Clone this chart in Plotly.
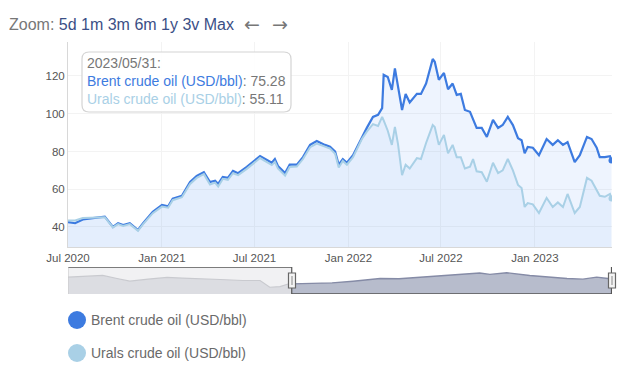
import plotly.graph_objects as go

# ---------------- data ----------------
dates = [
    "2020-07-01", "2020-07-15", "2020-07-30", "2020-08-13", "2020-08-27", "2020-09-11",
    "2020-09-27", "2020-10-07", "2020-10-17", "2020-10-30", "2020-11-15", "2020-11-25",
    "2020-12-14", "2021-01-01", "2021-01-13", "2021-01-22", "2021-02-09", "2021-02-25",
    "2021-03-10", "2021-03-24", "2021-04-05", "2021-04-15", "2021-04-21", "2021-04-30",
    "2021-05-10", "2021-05-20", "2021-05-30", "2021-06-16", "2021-07-12", "2021-07-25",
    "2021-08-04", "2021-08-10", "2021-08-16", "2021-08-30", "2021-09-08", "2021-09-22",
    "2021-10-04", "2021-10-18", "2021-10-31", "2021-11-16", "2021-11-26", "2021-12-06",
    "2021-12-13", "2021-12-21", "2021-12-29", "2022-01-10", "2022-01-27", "2022-02-06",
    "2022-02-18", "2022-02-28", "2022-03-08", "2022-03-11", "2022-03-19", "2022-03-27",
    "2022-04-02", "2022-04-08", "2022-04-16", "2022-04-23", "2022-05-01", "2022-05-15",
    "2022-05-23", "2022-06-02", "2022-06-15", "2022-06-19", "2022-06-27", "2022-07-07",
    "2022-07-15", "2022-07-24", "2022-08-01", "2022-08-09", "2022-08-17", "2022-08-27",
    "2022-09-02", "2022-09-09", "2022-09-19", "2022-09-29", "2022-10-11", "2022-10-21",
    "2022-10-30", "2022-11-09", "2022-11-19", "2022-11-29", "2022-12-06", "2022-12-12",
    "2022-12-18", "2022-12-28", "2023-01-09", "2023-01-24", "2023-02-05", "2023-02-15",
    "2023-02-25", "2023-03-06", "2023-03-20", "2023-03-30", "2023-04-13", "2023-04-22",
    "2023-05-02", "2023-05-08", "2023-05-18", "2023-05-28", "2023-05-31",
]
brent = [
    42.6, 42.0, 44.0, 44.5, 45.3, 45.5, 40.0, 42.0, 41.0, 42.0, 38.4, 42.0,
    48.0, 51.7, 51.0, 55.0, 56.5, 63.8, 67.0, 69.0, 63.8, 64.5, 62.8, 66.5,
    66.0, 69.7, 68.5, 71.8, 77.6, 75.5, 74.0, 76.0, 72.3, 68.6, 73.0, 73.0,
    77.0, 83.5, 85.5, 83.5, 82.5, 80.0, 73.0, 76.0, 74.0, 78.0, 87.7, 92.5,
    98.3, 99.4, 103.0, 120.6, 119.5, 112.6, 124.0, 114.0, 102.0, 110.5, 106.0, 110.5,
    110.5, 116.0, 129.0, 127.5, 118.0, 121.6, 113.0, 116.0, 110.0, 110.5, 102.0, 101.0,
    96.7, 92.5, 92.5, 87.7, 96.7, 92.5, 94.0, 98.3, 94.0, 87.0, 86.0, 79.0,
    82.4, 82.0, 78.0, 86.6, 83.5, 86.0, 83.5, 85.0, 74.4, 78.0, 87.7, 86.6,
    82.0, 77.0, 77.0, 77.5, 75.28,
]
urals = [
    43.5, 43.5, 44.8, 45.0, 45.3, 45.2, 39.8, 41.5, 40.5, 41.5, 38.0, 41.5,
    47.3, 50.8, 50.2, 54.2, 55.8, 62.8, 66.0, 68.0, 62.5, 63.5, 61.5, 65.5,
    65.0, 68.5, 67.5, 70.8, 76.5, 74.2, 72.8, 74.5, 71.0, 67.2, 71.8, 72.0,
    76.0, 82.3, 84.2, 82.6, 81.5, 78.8, 71.5, 75.0, 73.0, 77.0, 86.5, 90.5,
    94.5, 93.5, 98.3, 96.5, 91.0, 83.5, 93.0, 84.0, 67.5, 73.0, 71.0, 76.5,
    76.0, 84.5, 94.0, 93.0, 83.5, 88.8, 79.0, 83.5, 77.0, 77.0, 71.0, 72.0,
    76.0, 69.5, 69.0, 64.0, 74.0, 68.6, 70.0, 76.0, 70.0, 62.3, 60.6, 50.6,
    52.7, 52.0, 47.4, 55.4, 50.6, 53.0, 50.6, 57.5, 47.4, 50.6, 66.0, 64.5,
    59.0, 56.5, 56.0, 57.5, 55.11,
]

# navigator overview line (as drawn in the range selector)
nav_dates = [
    "2020-07-01", "2020-08-05", "2020-09-07", "2020-10-05", "2020-10-30", "2020-12-05",
    "2021-01-11", "2021-02-10", "2021-03-16", "2021-04-25", "2021-06-08", "2021-07-12",
    "2021-07-31", "2021-08-20", "2021-09-08", "2021-09-12", "2021-10-20", "2021-11-30",
    "2022-01-10", "2022-03-04", "2022-04-10", "2022-05-21", "2022-07-01", "2022-08-10",
    "2022-09-15", "2022-10-05", "2022-11-07", "2022-12-22", "2023-01-25", "2023-03-05",
    "2023-04-05", "2023-05-02", "2023-05-24", "2023-05-31",
]
nav_values = [
    50, 52, 55, 46, 38, 44, 49, 47, 46, 43, 40, 40,
    20, 22, 31, 30, 31, 33, 38, 46, 45, 50, 55, 58,
    62, 58, 63, 55, 50, 46, 44, 50, 46, 40,
]
nav_split = "2021-09-12"

series_names = ["Brent crude oil (USD/bbl)", "Urals crude oil (USD/bbl)"]
y_ticks = [40, 60, 80, 100, 120]
tooltip_date = "2023/05/31"

BRENT_C = "#3d7be0"
URALS_C = "#a9d0e6"
TXT = "#666666"
FONT = "Liberation Sans, Arial, sans-serif"

# pixel -> paper helpers (plot region: x 68..612, y 42..294)
L, R, T, B = 68, 28, 42, 92
W, H = 640 - L - R, 386 - T - B


def px(x):
    return (x - L) / W


def py(y):
    return (386 - B - y) / H


fig = go.Figure()

# main series
fig.add_trace(go.Scatter(
    x=dates, y=brent, mode="lines", name=series_names[0],
    line=dict(color=BRENT_C, width=2.2), fill="tozeroy",
    fillcolor="rgba(66,133,244,0.09)", xaxis="x", yaxis="y", showlegend=False))
fig.add_trace(go.Scatter(
    x=dates, y=urals, mode="lines", name=series_names[1],
    line=dict(color=URALS_C, width=2), fill="tozeroy",
    fillcolor="rgba(66,133,244,0.05)", xaxis="x", yaxis="y", showlegend=False))
fig.add_trace(go.Scatter(
    x=dates[-1:], y=brent[-1:], mode="markers", marker=dict(color=BRENT_C, size=6),
    xaxis="x", yaxis="y", showlegend=False))
fig.add_trace(go.Scatter(
    x=dates[-1:], y=urals[-1:], mode="markers", marker=dict(color=URALS_C, size=6),
    xaxis="x", yaxis="y", showlegend=False))

# navigator
left_d = [d for d in nav_dates if d <= nav_split]
left_v = nav_values[:len(left_d)]
right_d = [d for d in nav_dates if d >= nav_split]
right_v = nav_values[len(left_d) - 1:] if nav_split in nav_dates else nav_values[len(left_d):]
fig.add_trace(go.Scatter(
    x=left_d, y=left_v, mode="lines", line=dict(color="#c9cacf", width=1.2),
    fill="tozeroy", fillcolor="#dcdde2", xaxis="x2", yaxis="y2",
    showlegend=False, hoverinfo="skip"))
fig.add_trace(go.Scatter(
    x=right_d, y=right_v, mode="lines", line=dict(color="#858ba6", width=1.4),
    fill="tozeroy", fillcolor="#b7bccc", xaxis="x2", yaxis="y2",
    showlegend=False, hoverinfo="skip"))

xrange = ["2020-07-01", "2023-06-01"]

fig.update_layout(
    width=640, height=386,
    margin=dict(l=L, r=R, t=T, b=B, autoexpand=False),
    paper_bgcolor="white", plot_bgcolor="white",
    font=dict(family=FONT, size=12, color=TXT),
    xaxis=dict(
        domain=[0, 1], anchor="y", range=xrange, type="date",
        tick0="2020-07-01", dtick="M6", tickformat="%b %Y",
        showgrid=True, gridcolor="#f3f3f3", gridwidth=1,
        showline=True, linecolor="#d8d8d8", linewidth=1,
        ticks="", tickfont=dict(size=11.5, color="#555"), zeroline=False,
    ),
    yaxis=dict(
        domain=[(294 - 247) / H, 1], anchor="x", range=[29.4, 138],
        tickvals=y_ticks, showgrid=True, gridcolor="#f3f3f3",
        showline=True, linecolor="#d8d8d8", linewidth=1,
        ticks="", tickfont=dict(size=11.5, color="#555"), zeroline=False,
    ),
    xaxis2=dict(
        domain=[0, 1], anchor="y2", range=xrange, type="date",
        showgrid=False, showticklabels=False, showline=False, zeroline=False,
    ),
    yaxis2=dict(
        domain=[0, (294 - 267) / H], anchor="x2", range=[0, 80],
        showgrid=False, showticklabels=False, showline=False, zeroline=False,
    ),
    hovermode=False,
)

shapes = []
annotations = []

# navigator unselected mask background
shapes.append(dict(type="rect", xref="x2", yref="y2", x0=xrange[0], x1=nav_split,
                   y0=0, y1=80, fillcolor="#f1f1f3", line=dict(width=0), layer="below"))
# navigator frame lines
shapes.append(dict(type="line", xref="x2", yref="y2", x0=xrange[0], x1=nav_split,
                   y0=80, y1=80, line=dict(color="#555", width=1.5)))
shapes.append(dict(type="line", xref="x2", yref="y2", x0=nav_split, x1=dates[-1],
                   y0=0, y1=0, line=dict(color="#555", width=1.5)))
shapes.append(dict(type="line", xref="x2", yref="y2", x0=xrange[0], x1=xrange[0],
                   y0=0, y1=80, line=dict(color="#c8c8c8", width=1)))
for hd in [nav_split, dates[-1]]:
    shapes.append(dict(type="line", xref="x2", yref="y2", x0=hd, x1=hd,
                       y0=0, y1=80, line=dict(color="#555", width=1.2)))
# handles
for hx in [292, 612]:
    shapes.append(dict(type="rect", xref="paper", yref="paper",
                       x0=px(hx - 3.5), x1=px(hx + 3.5), y0=py(288), y1=py(273),
                       fillcolor="#f4f4f4", line=dict(color="#666", width=1.2)))
    shapes.append(dict(type="line", xref="paper", yref="paper",
                       x0=px(hx), x1=px(hx), y0=py(285), y1=py(276),
                       line=dict(color="#888", width=1)))

# tooltip box (rounded)
bx0, bx1, by0, by1, r = 82, 291, 52, 112, 7
path = (f"M {px(bx0 + r)},{py(by0)} L {px(bx1 - r)},{py(by0)} "
        f"Q {px(bx1)},{py(by0)} {px(bx1)},{py(by0 + r)} "
        f"L {px(bx1)},{py(by1 - r)} Q {px(bx1)},{py(by1)} {px(bx1 - r)},{py(by1)} "
        f"L {px(bx0 + r)},{py(by1)} Q {px(bx0)},{py(by1)} {px(bx0)},{py(by1 - r)} "
        f"L {px(bx0)},{py(by0 + r)} Q {px(bx0)},{py(by0)} {px(bx0 + r)},{py(by0)} Z")
shapes.append(dict(type="path", xref="paper", yref="paper", path=path,
                   fillcolor="rgba(255,255,255,0.92)",
                   line=dict(color="#d4d4d4", width=1.2)))
tip = (f"{tooltip_date}:<br>"
       f"<span style='color:{BRENT_C}'>{series_names[0]}</span>: {brent[-1]:.2f}<br>"
       f"<span style='color:{URALS_C}'>{series_names[1]}</span>: {urals[-1]:.2f}")
annotations.append(dict(xref="paper", yref="paper", x=px(85), y=py(53),
                        xanchor="left", yanchor="top", align="left", showarrow=False,
                        text=tip, font=dict(size=14, color="#777", family=FONT)))

# zoom bar
zoom_txt = ("<span style='color:#777'>Zoom:</span> "
            "<span style='color:#3b4f86'>5d 1m 3m 6m 1y 3v Max</span>")
annotations.append(dict(xref="paper", yref="paper", x=px(7), y=py(24),
                        xanchor="left", yanchor="middle", showarrow=False,
                        text=zoom_txt, font=dict(size=16, family=FONT)))
annotations.append(dict(xref="paper", yref="paper", x=px(242), y=py(24),
                        xanchor="left", yanchor="middle", showarrow=False,
                        text="\u2190  \u2192", font=dict(size=19, color="#777",
                                                        family="DejaVu Sans")))

# legend
for i, (name, col) in enumerate(zip(series_names, [BRENT_C, URALS_C])):
    cy = 320 + i * 33
    shapes.append(dict(type="circle", xref="paper", yref="paper",
                       x0=px(68), x1=px(86), y0=py(cy - 9), y1=py(cy + 9),
                       fillcolor=col, line=dict(color=col, width=0)))
    annotations.append(dict(xref="paper", yref="paper", x=px(89), y=py(cy),
                            xanchor="left", yanchor="middle", showarrow=False,
                            text=name, font=dict(size=14, color="#6a6a6a", family=FONT)))

fig.update_layout(shapes=shapes, annotations=annotations)
fig.write_html("out.html", config={"displayModeBar": False},
               post_script="document.body.style.margin='0';document.body.style.padding='0';")
